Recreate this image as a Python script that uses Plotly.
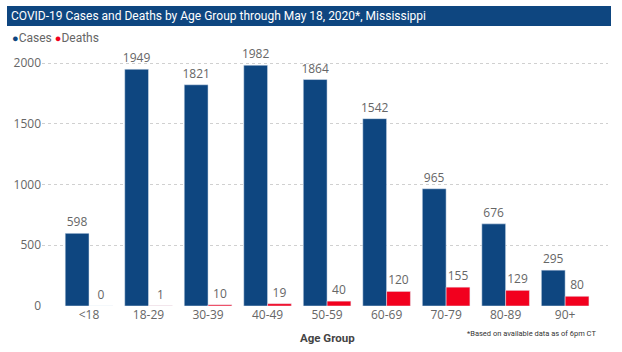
import plotly.graph_objects as go

age_groups = ["<18", "18-29", "30-39", "40-49", "50-59", "60-69", "70-79", "80-89", "90+"]
cases = [598, 1949, 1821, 1982, 1864, 1542, 965, 676, 295]
deaths = [0, 1, 10, 19, 40, 120, 155, 129, 80]

W, H = 622, 352
L, R, T, B = 42, 14, 40, 46
pw, ph = W - L - R, H - T - B
YMAX = 2066 * ph / 251.0

COND = "Roboto, sans-serif"

def px(x):
    return (x - L) / pw

def py(y):
    return (H - B - y) / ph

fig = go.Figure()
fig.add_trace(go.Bar(x=age_groups, y=cases, name="Cases", marker_color="#0E4680",
                     text=cases, textposition="outside", cliponaxis=False, constraintext="none",
                     textfont=dict(color="#666666", size=12, family="Open Sans")))
fig.add_trace(go.Bar(x=age_groups, y=deaths, name="Deaths", marker_color="#F2001E",
                     text=deaths, textposition="outside", cliponaxis=False, constraintext="none",
                     textfont=dict(color="#666666", size=12, family="Open Sans")))

fig.update_layout(
    width=W, height=H,
    margin=dict(l=L, r=R, t=T, b=B),
    paper_bgcolor="white", plot_bgcolor="white",
    barmode="group", bargap=0.2, bargroupgap=0,
    showlegend=False,
    font=dict(family="Open Sans", color="#666666"),
    xaxis=dict(range=[-0.79, 8.72], showgrid=False, showline=False, ticks="",
               tickfont=dict(size=12, color="#666666")),
    yaxis=dict(range=[0, YMAX], tickvals=[0, 500, 1000, 1500, 2000],
               showgrid=True, gridcolor="#D0D0D0", griddash="dot", gridwidth=1,
               zeroline=False, showline=False, ticks="",
               tickfont=dict(size=12, color="#666666")),
)

# title bar
fig.add_shape(type="rect", xref="paper", yref="paper",
              x0=px(7), x1=px(611), y0=py(26), y1=py(6),
              fillcolor="#0E4680", line_width=0, layer="above")
fig.add_annotation(xref="paper", yref="paper", x=px(9), y=py(16), xanchor="left", yanchor="middle",
                   text="COVID-19 Cases and Deaths by Age Group through May 18, 2020*, Mississippi",
                   showarrow=False, font=dict(family=COND, size=12, color="white"))

# legend
fig.add_annotation(xref="paper", yref="paper", x=px(10), y=py(38), xanchor="left", yanchor="middle",
                   text="<span style='color:#0E4680;font-size:11px'>●</span>Cases <span style='color:#F2001E;font-size:11px'>●</span>Deaths",
                   showarrow=False, font=dict(family=COND, size=12, color="#666666"))

# axis title
fig.add_annotation(xref="paper", yref="paper", x=px(327), y=py(338), xanchor="center", yanchor="middle",
                   text="<b>Age Group</b>", showarrow=False,
                   font=dict(family=COND, size=11.5, color="#444444"))

# footnote
fig.add_annotation(xref="paper", yref="paper", x=px(598), y=py(334), xanchor="right", yanchor="middle",
                   text="*Based on available data as of 6pm CT", showarrow=False,
                   font=dict(family=COND, size=7.5, color="#333333"))

fig.write_html("out.html")
